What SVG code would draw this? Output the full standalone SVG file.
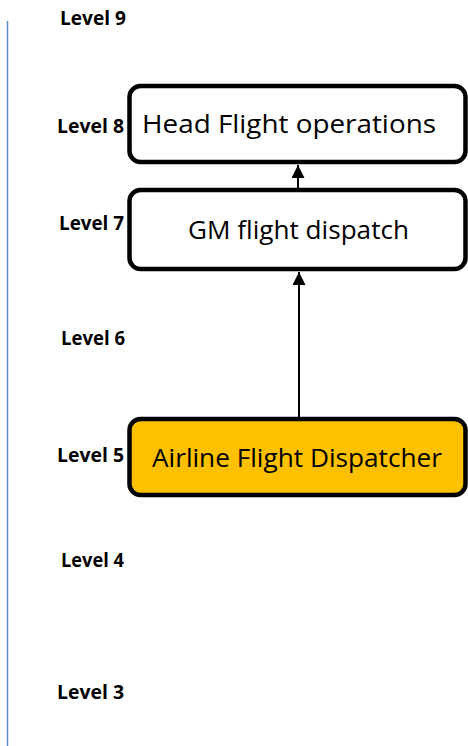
<svg xmlns="http://www.w3.org/2000/svg" width="468" height="746" viewBox="0 0 468 746">
<defs>
<style>
.lvl{font-family:"Open Sans","Liberation Sans",sans-serif;font-weight:bold;font-size:19.5px;fill:#000;text-anchor:end}
.box{stroke:#000;stroke-width:4.5;fill:#fff}
.hl{fill:#FFC000}
.lbl{font-family:"Open Sans","Liberation Sans",sans-serif;font-size:25.5px;fill:#000;text-anchor:middle}
.conn{stroke:#000;stroke-width:2;fill:none}
</style>
<marker id="ah" viewBox="0 0 10 10" refX="10" refY="5" markerWidth="13" markerHeight="13" markerUnits="userSpaceOnUse" orient="auto">
<path d="M0,0 L10,5 L0,10 Z" fill="#000"/>
</marker>
</defs>
<rect width="468" height="746" fill="#fff"/>
<line x1="7.5" y1="21" x2="7.5" y2="746" stroke="#5b87c8" stroke-width="1.5"/>
<g id="levels">
<text class="lvl" x="126" y="25" textLength="66" lengthAdjust="spacingAndGlyphs">Level 9</text>
<text class="lvl" x="124" y="133" textLength="67" lengthAdjust="spacingAndGlyphs">Level 8</text>
<text class="lvl" x="124" y="230" textLength="65" lengthAdjust="spacingAndGlyphs">Level 7</text>
<text class="lvl" x="125" y="345" textLength="64" lengthAdjust="spacingAndGlyphs">Level 6</text>
<text class="lvl" x="124" y="462" textLength="67" lengthAdjust="spacingAndGlyphs">Level 5</text>
<text class="lvl" x="124" y="567" textLength="63" lengthAdjust="spacingAndGlyphs">Level 4</text>
<text class="lvl" x="124" y="699" textLength="67" lengthAdjust="spacingAndGlyphs">Level 3</text>
</g>
<g id="connectors">
<line class="conn" x1="298" y1="188" x2="298" y2="165" marker-end="url(#ah)"/>
<line class="conn" x1="299" y1="417" x2="299" y2="272" marker-end="url(#ah)"/>
</g>
<g id="head">
<rect class="box" x="129.5" y="86" width="336" height="76" rx="11"/>
<text class="lbl" x="289" y="133" textLength="294" lengthAdjust="spacingAndGlyphs">Head Flight operations</text>
</g>
<g id="gm">
<rect class="box" x="129.5" y="190" width="336" height="79" rx="11"/>
<text class="lbl" x="298.5" y="239" textLength="221" lengthAdjust="spacingAndGlyphs">GM flight dispatch</text>
</g>
<g id="dispatcher">
<rect class="box hl" x="129.5" y="419" width="336" height="76" rx="11"/>
<text class="lbl" x="297" y="467" textLength="290" lengthAdjust="spacingAndGlyphs">Airline Flight Dispatcher</text>
</g>
</svg>
